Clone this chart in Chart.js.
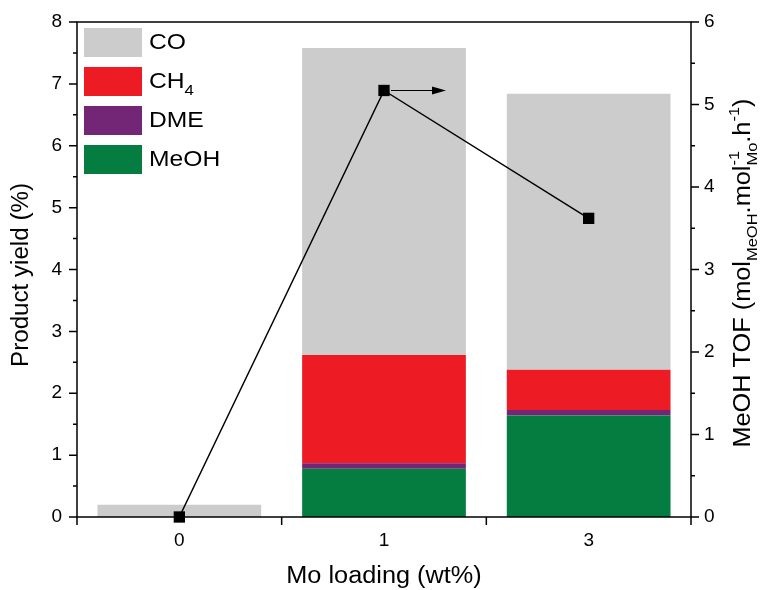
<!DOCTYPE html>
<html>
<head>
<meta charset="utf-8">
<script src="https://cdn.jsdelivr.net/npm/chart.js@4.4.1/dist/chart.umd.min.js"></script>
<style>
  body { margin: 0; background: #fff; }
  #wrap { width: 762px; height: 590px; }
</style>
</head>
<body>
<div id="wrap"><canvas id="yield-chart" width="762" height="590"></canvas></div>
<script>
// Mo loading categories and product yields (%) per product, stacked bottom-up
const loadings = ['0', '1', '3'];
const meohYield = [0, 0.78, 1.64];
const dmeYield = [0, 0.09, 0.09];
const ch4Yield = [0, 1.75, 0.65];
const coYield = [0.2, 4.96, 4.46];
// MeOH turnover frequency on the right axis
const meohTof = [0, 5.17, 3.62];

const FONT = '"Liberation Sans", Arial, sans-serif';
const BLACK = '#000';

// pieces: 0 normal, 1 subscript, 2 superscript, 3 stacked super|sub
function drawRich(ctx, pieces, size, small, centered, stretch) {
  const big = size + 'px ' + FONT, little = small + 'px ' + FONT;
  const widthOf = p => {
    if (p[1] === 0) { ctx.font = big; return ctx.measureText(p[0]).width; }
    ctx.font = little;
    if (p[1] === 3) {
      const [a, b] = p[0].split('|');
      return Math.max(ctx.measureText(a).width, ctx.measureText(b).width);
    }
    return ctx.measureText(p[0]).width;
  };
  ctx.save();
  ctx.scale(stretch || 1.12, 1);
  const total = pieces.reduce((s, p) => s + widthOf(p), 0);
  let cx = centered ? -total / 2 : 0;
  ctx.fillStyle = BLACK;
  ctx.textBaseline = 'middle';
  ctx.textAlign = 'left';
  const off = size * 0.4;
  pieces.forEach(p => {
    const w = widthOf(p);
    if (p[1] === 0) {
      ctx.font = big; ctx.fillText(p[0], cx, 0);
    } else if (p[1] === 1) {
      ctx.font = little; ctx.fillText(p[0], cx, off);
    } else if (p[1] === 2) {
      ctx.font = little; ctx.fillText(p[0], cx, -off);
    } else {
      const [a, b] = p[0].split('|');
      ctx.font = little;
      ctx.fillText(a, cx, -off);
      ctx.fillText(b, cx, off);
    }
    cx += w;
  });
  ctx.restore();
}

// frame, ticks (major + minor), arrow, legend and axis titles
const decorations = {
  id: 'decorations',
  afterDraw(chart) {
    const ctx = chart.ctx;
    const { left, right, top, bottom } = chart.chartArea;
    const y = chart.scales.y, y1 = chart.scales.y1;
    ctx.save();
    ctx.strokeStyle = BLACK;
    ctx.lineWidth = 1.5;
    ctx.strokeRect(left, top, right - left, bottom - top);

    ctx.beginPath();
    for (let v = 0; v <= 8; v += 0.5) {
      const p = y.getPixelForValue(v);
      const len = Number.isInteger(v) ? 8 : 4;
      ctx.moveTo(left - len, p); ctx.lineTo(left, p);
    }
    for (let v = 0; v <= 6; v += 0.5) {
      const p = y1.getPixelForValue(v);
      const len = Number.isInteger(v) ? 8 : 4;
      ctx.moveTo(right, p); ctx.lineTo(right + len, p);
    }
    // bottom ticks sit on category boundaries
    const step = (right - left) / loadings.length;
    for (let i = 0; i <= loadings.length; i++) {
      const p = left + i * step;
      ctx.moveTo(p, bottom); ctx.lineTo(p, bottom + 8);
    }
    ctx.stroke();

    // arrow pointing from the TOF point toward the right axis
    const pt = chart.getDatasetMeta(4).data[1];
    const ax = pt.x + 7, tip = pt.x + 62, ay = pt.y;
    ctx.lineWidth = 1.2;
    ctx.beginPath();
    ctx.moveTo(ax, ay); ctx.lineTo(tip - 12, ay);
    ctx.stroke();
    ctx.fillStyle = BLACK;
    ctx.beginPath();
    ctx.moveTo(tip, ay); ctx.lineTo(tip - 14, ay - 4); ctx.lineTo(tip - 14, ay + 4);
    ctx.closePath();
    ctx.fill();

    // legend
    const items = [
      { c: '#cccccc', t: [['CO', 0]] },
      { c: '#ed1c24', t: [['CH', 0], ['4', 1]] },
      { c: '#732675', t: [['DME', 0]] },
      { c: '#057d41', t: [['MeOH', 0]] }
    ];
    items.forEach((it, i) => {
      const ty = 28 + i * 39;
      ctx.fillStyle = it.c;
      ctx.fillRect(84, ty, 58, 29);
      ctx.save();
      ctx.translate(149, ty + 15);
      drawRich(ctx, it.t, 22, 15, false);
      ctx.restore();
    });

    // bottom axis title
    ctx.save();
    ctx.translate((left + right) / 2, 577);
    drawRich(ctx, [['Mo loading (wt%)', 0]], 23, 15, true, 1.1);
    ctx.restore();

    // left axis title
    ctx.save();
    ctx.translate(22, 275);
    ctx.rotate(-Math.PI / 2);
    drawRich(ctx, [['Product yield (%)', 0]], 23, 15, true, 1.05);
    ctx.restore();

    // right axis title: MeOH TOF (mol_MeOH.mol^-1_Mo.h^-1)
    ctx.save();
    ctx.translate(744, 273);
    ctx.rotate(-Math.PI / 2);
    drawRich(ctx, [
      ['MeOH TOF (mol', 0], ['MeOH', 1], ['.mol', 0], ['-1|Mo', 3], ['.h', 0], ['-1', 2], [')', 0]
    ], 23, 15, true, 1.1);
    ctx.restore();
    ctx.restore();
  }
};

const barBase = { stack: 'yield', yAxisID: 'y', order: 1, borderWidth: 0,
  categoryPercentage: 0.8, barPercentage: 1.0 };

// fixed axis boxes so the plot area lands at 77..691 x 22..517
const fixWidth = w => s => { s.width = w; s.paddingTop = 0; s.paddingBottom = 0; };

new Chart(document.getElementById('yield-chart'), {
  data: {
    labels: loadings,
    datasets: [
      { ...barBase, type: 'bar', label: 'MeOH', data: meohYield, backgroundColor: '#057d41' },
      { ...barBase, type: 'bar', label: 'DME', data: dmeYield, backgroundColor: '#732675' },
      { ...barBase, type: 'bar', label: 'CH4', data: ch4Yield, backgroundColor: '#ed1c24' },
      { ...barBase, type: 'bar', label: 'CO', data: coYield, backgroundColor: '#cccccc' },
      {
        type: 'line', label: 'MeOH TOF', data: meohTof, yAxisID: 'y1', order: 0,
        borderColor: BLACK, borderWidth: 1.5, pointStyle: 'rect', pointRadius: 8,
        pointBackgroundColor: BLACK, pointBorderWidth: 0, clip: false
      }
    ]
  },
  options: {
    responsive: false,
    animation: false,
    layout: { padding: { top: 22, left: 0, right: 0, bottom: 0 } },
    plugins: { legend: { display: false }, tooltip: { enabled: false } },
    scales: {
      x: {
        stacked: true,
        grid: { display: false, drawTicks: false },
        border: { display: false },
        ticks: { color: BLACK, font: { family: FONT, size: 19 }, padding: 12 },
        afterFit: s => { s.height = 73; s.paddingLeft = 0; s.paddingRight = 0; }
      },
      y: {
        stacked: true, position: 'left', min: 0, max: 8,
        grid: { display: false, drawTicks: false },
        border: { display: false },
        ticks: { stepSize: 1, color: BLACK, font: { family: FONT, size: 19 }, padding: 15 },
        afterFit: fixWidth(77)
      },
      y1: {
        position: 'right', min: 0, max: 6,
        grid: { display: false, drawTicks: false },
        border: { display: false },
        ticks: { stepSize: 1, color: BLACK, font: { family: FONT, size: 19 }, padding: 13 },
        afterFit: fixWidth(71)
      }
    }
  },
  plugins: [decorations]
});
</script>
</body>
</html>
